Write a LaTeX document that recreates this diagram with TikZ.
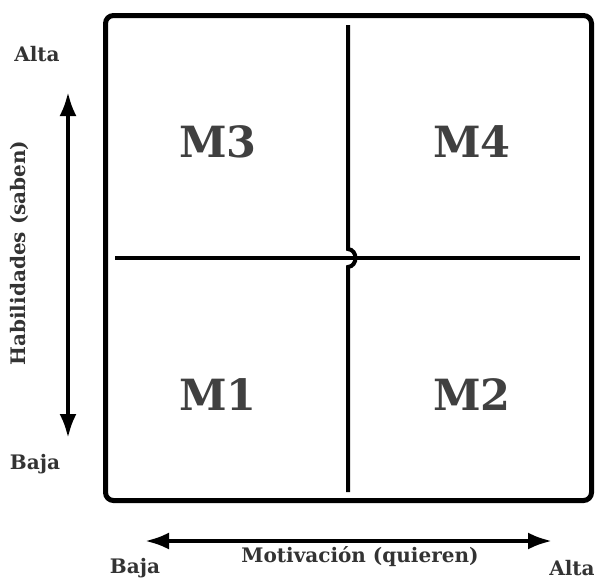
\documentclass[tikz,border=0pt]{standalone}
\usepackage{fontspec}
\setmainfont{DejaVu Serif}
\usetikzlibrary{positioning,arrows.meta}

\begin{document}
\begin{tikzpicture}[>=Latex, x=1pt, y=-1pt,
    quad/.style={font=\fontsize{43}{43}\selectfont\bfseries, text=black!75},
    axislabel/.style={font=\fontsize{20}{20}\selectfont\bfseries, text=black!80},
    axisarrow/.style={{Latex[length=24pt,width=17pt]}-{Latex[length=24pt,width=17pt]}, line width=4pt}]

        \useasboundingbox (0,0) rectangle (598,582);

        % outer frame
        \draw[line width=5pt, rounded corners=8pt] (105.5,15.5) rectangle (591.5,500.5);

        % dividers (small hop where they cross)
        \coordinate (vtop) at (348,25);
        \coordinate (vbot) at (348,492);
        \coordinate (hleft) at (115,258);
        \coordinate (hright) at (580,258);
        \draw[line width=4pt] (hleft) -- (hright);
        \draw[line width=4pt] (vtop) -- (348,249)
            .. controls (358,250) and (358,266) .. (348,267) -- (vbot);

        % quadrants
        \node[quad] (m3) at (218,142) {M3};
        \node[quad] (m4) at (472,142) {M4};
        \node[quad] (m1) at (218,395) {M1};
        \node[quad] (m2) at (472,395) {M2};

        % vertical axis
        \node[axislabel] (yhigh) at (37,54) {Alta};
        \node[axislabel] (ylow) at (35,464) {Baja};
        \node[axislabel, rotate=90] (ytitle) at (19,253) {Habilidades (saben)};
        \coordinate (ytop) at (68,92);
        \coordinate (ybot) at (68,438);
        \draw[axisarrow] (ybot) -- (ytop);

        % horizontal axis
        \node[axislabel] (xlow) at (135,568) {Baja};
        \node[axislabel] (xhigh) at (572,568) {Alta};
        \node[axislabel] (xtitle) at (360,557) {Motivación (quieren)};
        \coordinate (xleft) at (145,541);
        \coordinate (xright) at (552,541);
        \draw[axisarrow] (xleft) -- (xright);

    \end{tikzpicture}
\end{document}
